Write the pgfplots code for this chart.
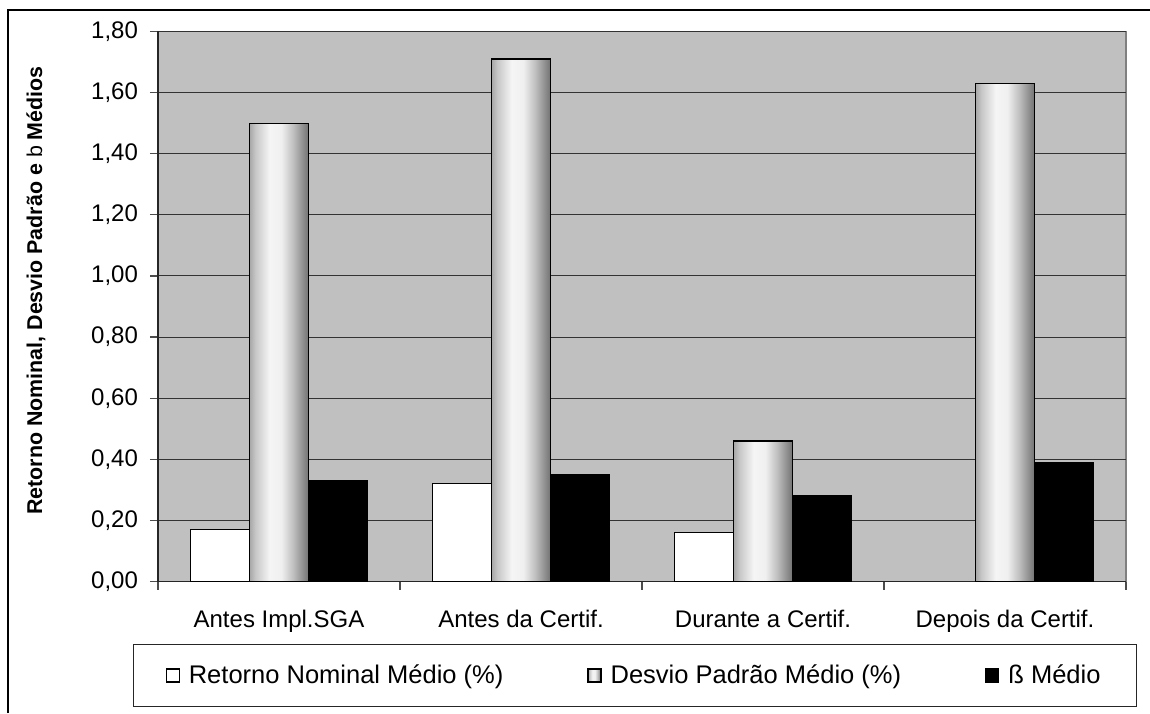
\documentclass[border=0pt]{standalone}
\usepackage{fontspec}
\setmainfont{Liberation Sans}
\usepackage{pgfplots}
\pgfplotsset{compat=1.18}

\definecolor{plotbg}{RGB}{192,192,192}
\definecolor{framegray}{RGB}{128,128,128}

% metallic cylinder look for the standard-deviation bars
\pgfdeclarehorizontalshading{cylinder}{100bp}{%
  color(0bp)=(black); color(5bp)=(black!85); color(15bp)=(black!60);
  color(30bp)=(black!22); color(42bp)=(black!4); color(52bp)=(black!6);
  color(62bp)=(black!25); color(75bp)=(black!55); color(88bp)=(black!80);
  color(100bp)=(black)}

\pgfplotsset{
  cyl/.style={draw=black, line width=0.6pt, shading=cylinder, bar shift=0pt},
}

\begin{document}
\begin{tikzpicture}[x=1pt,y=1pt]
\useasboundingbox (0,0) rectangle (575,356.5);
\draw[line width=0.6pt] (4,0) -- (4,351.5) -- (575,351.5);
\begin{axis}[
  at={(79pt,65.75pt)}, anchor=south west,
  scale only axis, width=484pt, height=275pt,
  xmin=-0.5, xmax=3.5, ymin=0, ymax=1.8,
  ybar=0pt, bar width=29.5pt,
  axis background/.style={fill=plotbg, draw=framegray, line width=0.6pt},
  axis x line*=bottom, axis y line*=left,
  axis line style={black!85, line width=0.6pt},
  tick align=outside,
  major tick length=4pt, minor tick length=4pt,
  xtick={0,1,2,3},
  xticklabels={Antes Impl.SGA, Antes da Certif., Durante a Certif., Depois da Certif.},
  minor xtick={-0.5,0.5,1.5,2.5,3.5},
  major x tick style={draw=none},
  minor x tick style={black!70, line width=0.6pt},
  ytick={0,0.2,0.4,0.6,0.8,1.0,1.2,1.4,1.6,1.8},
  y tick style={black!70, line width=0.6pt},
  ymajorgrids, major grid style={black!80, line width=0.5pt},
  ticklabel style={font=\fontsize{12}{14}\selectfont},
  /pgf/number format/assume math mode=true,
  yticklabel style={xshift=-2.5pt, /pgf/number format/.cd, fixed, fixed zerofill, precision=2, use comma},
  xticklabel style={anchor=base, yshift=-18.75pt},
  ylabel={Retorno Nominal, Desvio Padrão e {\mdseries b} Médios},
  every axis y label/.style={at={(axis description cs:0,0.529)}, xshift=-61pt,
    rotate=90, anchor=center, font=\fontsize{10.7}{12}\selectfont\bfseries},
  legend columns=3,
  legend image code/.code={%
    \draw[#1, line width=0.6pt] (0pt,-3.25pt) rectangle (6.5pt,3.25pt);
    \path (0pt,0pt) (9pt,0pt);},
  legend style={at={(rel axis cs:-0.0258,-0.2282)}, anchor=south west,
    draw=black!85, line width=0.6pt, inner xsep=16pt, inner ysep=8pt,
    font=\fontsize{12.75}{15}\selectfont,
    /tikz/every even column/.append style={column sep=40pt}},
]
\addplot[draw=black, line width=0.6pt, fill=white, bar shift=-29.5pt]
  coordinates {(0,0.17) (1,0.32) (2,0.16)};
\addlegendentry{Retorno Nominal Médio (\%)}
% each cylinder is its own path so that every bar gets the full shading
\addplot[cyl] coordinates {(0,1.50)};
\addlegendentry{Desvio Padrão Médio (\%)}
\addplot[cyl, forget plot] coordinates {(1,1.71)};
\addplot[cyl, forget plot] coordinates {(2,0.46)};
\addplot[cyl, forget plot] coordinates {(3,1.63)};
\addplot[draw=black, line width=0.6pt, fill=black, bar shift=29.5pt]
  coordinates {(0,0.33) (1,0.35) (2,0.28) (3,0.39)};
\addlegendentry{ß Médio}
\end{axis}
\end{tikzpicture}
\end{document}
